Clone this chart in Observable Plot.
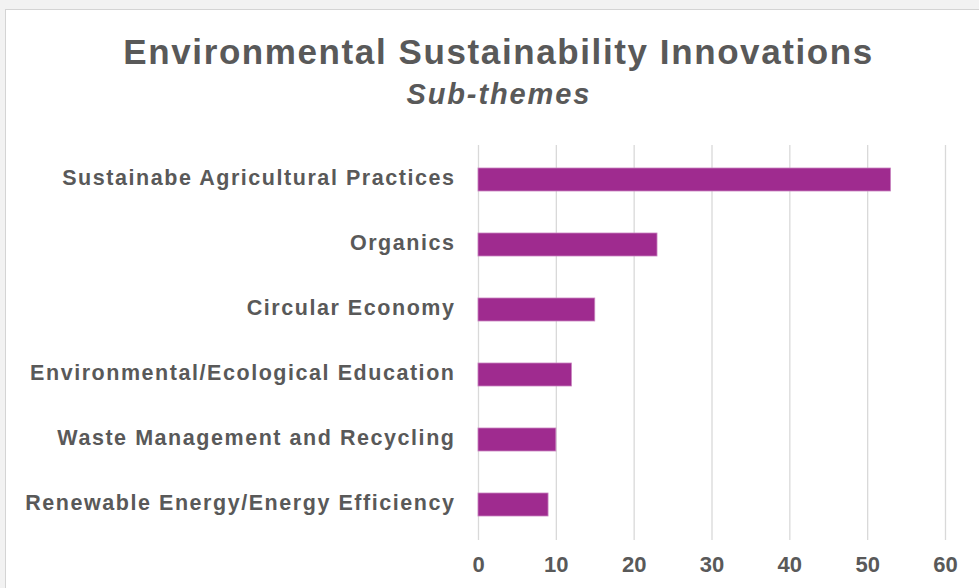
<!DOCTYPE html>
<html>
<head>
<meta charset="utf-8">
<script src="https://cdn.jsdelivr.net/npm/d3@7"></script>
<script src="https://cdn.jsdelivr.net/npm/@observablehq/plot@0.6"></script>
<style>
  html, body { margin: 0; padding: 0; }
  body { width: 979px; height: 588px; overflow: hidden; background: #f2f2f2; position: relative; font-family: "Liberation Sans", Arial, sans-serif; }
  #frame { position: absolute; left: 5px; top: 9px; width: 1000px; height: 620px; background: #fff; border: 1px solid #d4d4d4; }
  #title { position: absolute; left: 0; width: 994px; top: 34px; line-height: 1; text-align: center; font-size: 35px; font-weight: bold; color: #595959; white-space: nowrap; letter-spacing: 1.6px; padding-left: 1.6px; }
  #subtitle { position: absolute; left: 0; width: 994px; top: 80px; line-height: 1; text-align: center; font-size: 29px; font-weight: bold; font-style: italic; color: #595959; white-space: nowrap; letter-spacing: 1.9px; padding-left: 1.9px; }
  #chart { position: absolute; left: 0; top: 0; }
</style>
</head>
<body>
<div id="frame"></div>
<div id="title">Environmental Sustainability Innovations</div>
<div id="subtitle">Sub-themes</div>
<div id="chart"></div>
<script>
const categories = [
  "Sustainabe Agricultural Practices",
  "Organics",
  "Circular Economy",
  "Environmental/Ecological Education",
  "Waste Management and Recycling",
  "Renewable Energy/Energy Efficiency"
];
const values = [53, 23, 15, 12, 10, 9];
const xTicks = [0, 10, 20, 30, 40, 50, 60];

const data = categories.map((c, i) => ({category: c, value: values[i]}));

const chart = Plot.plot({
  width: 979,
  height: 588,
  marginTop: 145,
  marginBottom: 48,
  marginLeft: 478,
  marginRight: 34,
  style: {background: "transparent", fontFamily: "'Liberation Sans', Arial, sans-serif", color: "#595959"},
  x: {domain: [0, 60], ticks: xTicks, label: null},
  y: {domain: categories, label: null, paddingInner: 0.64, paddingOuter: 0.32},
  marks: [
    Plot.gridX(xTicks, {stroke: "#d9d9d9", strokeOpacity: 1, strokeWidth: 1.3}),
    Plot.barX(data, {x: "value", y: "category", fill: "#9f2b8f", stroke: "#c983bf", strokeWidth: 0.8}),
    Plot.axisX(xTicks, {tickSize: 0, tickPadding: 16, fontSize: 22, fontWeight: "bold", fill: "#595959", label: null}),
    Plot.axisY({tickSize: 0, tickPadding: 23, fontSize: 21.5, fontWeight: "bold", fill: "#595959", label: null, dy: -1.5})
  ]
});
document.getElementById("chart").appendChild(chart);
d3.select(chart).selectAll("g[aria-label='y-axis tick label'] text").style("letter-spacing", "1.55px");
</script>
</body>
</html>
